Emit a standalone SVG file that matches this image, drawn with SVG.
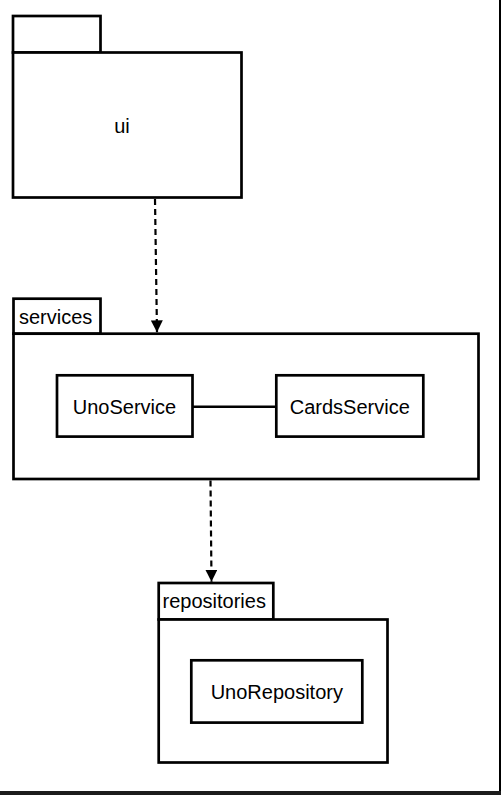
<svg xmlns="http://www.w3.org/2000/svg" width="501" height="795" viewBox="0 0 501 795">
<defs>
<style>
.box{fill:#fff;stroke:#000;stroke-width:2.7}
.lbl{font-family:"Liberation Sans",Arial,sans-serif;font-size:20px;fill:#000}
.dep{stroke:#000;stroke-width:2.2;stroke-dasharray:6 4;fill:none}
.assoc{stroke:#000;stroke-width:2.5;fill:none}
</style>
<marker id="arrow" markerUnits="userSpaceOnUse" markerWidth="12" markerHeight="12" refX="10" refY="5" orient="auto" viewBox="0 0 10 10">
<path d="M0,0 L10,5 L0,10 Z" fill="#000"/>
</marker>
</defs>
<rect x="0" y="0" width="501" height="795" fill="#fff"/>
<rect x="499" y="0" width="2" height="795" fill="#000"/>
<rect x="0" y="791" width="501" height="4" fill="#1c1c1c"/>

<g id="ui">
<rect class="box" x="13" y="16" width="87.5" height="36.5"/>
<rect class="box" x="13" y="52.5" width="228.5" height="145"/>
<text class="lbl" x="122" y="133" text-anchor="middle">ui</text>
</g>

<g id="services">
<rect class="box" x="13.5" y="298.7" width="87" height="35"/>
<rect class="box" x="13.5" y="333.7" width="465" height="145.3"/>
<text class="lbl" x="19" y="324">services</text>
</g>

<g id="UnoService">
<rect class="box" x="57" y="375.3" width="135.5" height="61.3"/>
<text class="lbl" x="124.5" y="413.5" text-anchor="middle">UnoService</text>
</g>

<g id="CardsService">
<rect class="box" x="276.3" y="375.3" width="147" height="61.3"/>
<text class="lbl" x="349.8" y="413.5" text-anchor="middle">CardsService</text>
</g>

<g id="repositories">
<rect class="box" x="158.7" y="583" width="114.6" height="36.5"/>
<rect class="box" x="158.7" y="619.5" width="228.8" height="143"/>
<text class="lbl" x="162.5" y="608">repositories</text>
</g>

<g id="UnoRepository">
<rect class="box" x="191.3" y="660.3" width="171" height="62.3"/>
<text class="lbl" x="276.8" y="698.5" text-anchor="middle">UnoRepository</text>
</g>

<g id="connectors">
<line class="assoc" x1="192.5" y1="406.7" x2="276.3" y2="406.7"/>
<line class="dep" x1="155" y1="199" x2="157" y2="332.3" marker-end="url(#arrow)"/>
<line class="dep" x1="210.5" y1="480.5" x2="211.5" y2="581.7" marker-end="url(#arrow)"/>
</g>
</svg>
